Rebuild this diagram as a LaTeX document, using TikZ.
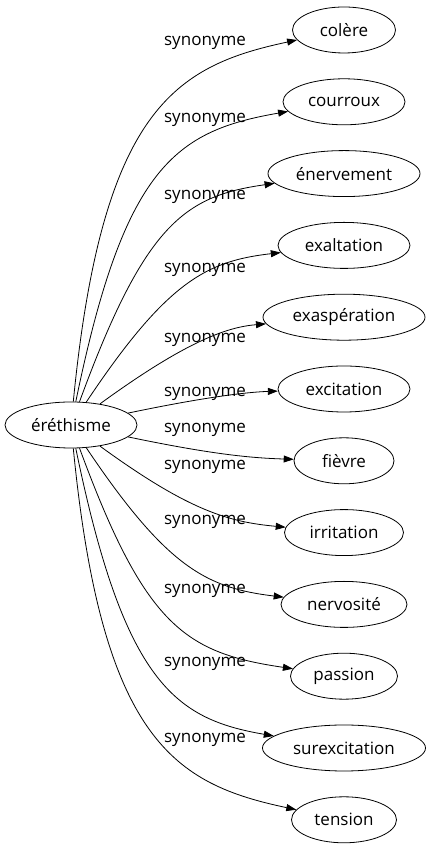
\documentclass[tikz,border=0pt]{standalone}
\usepackage{fontspec}
\setmainfont{Open Sans}
\usetikzlibrary{shapes.geometric}
\usetikzlibrary{positioning}
\usetikzlibrary{arrows.meta}

\begin{document}
\begin{tikzpicture}[x=1pt,y=1pt,>={Triangle[length=10pt,width=7pt]},node distance=71.8pt,
	line width=0.8pt,main node/.style={ellipse,draw,inner sep=0pt,minimum height=46pt,font=\fontsize{17}{20}\selectfont},
	syn label/.style={font=\fontsize{17}{20}\selectfont,inner sep=0pt}]
	\useasboundingbox (0,0) rectangle (431,851);
	
	\node[main node,minimum width=132pt] (ere) at (71,426) {éréthisme};
	\node[main node,minimum width=103pt] (colere) at (344,821) {colère};
	\node[main node,minimum width=122pt] (courroux) [below of=colere] {courroux};
	\node[main node,minimum width=152pt] (enervement) [below of=courroux] {énervement};
	\node[main node,minimum width=132pt] (exaltation) [below of=enervement] {exaltation};
	\node[main node,minimum width=162pt] (exasperation) [below of=exaltation] {exaspération};
	\node[main node,minimum width=132pt] (excitation) [below of=exasperation] {excitation};
	\node[main node,minimum width=100pt] (fievre) [below of=excitation] {fièvre};
	\node[main node,minimum width=119pt] (irritation) [below of=fievre] {irritation};
	\node[main node,minimum width=126pt] (nervosite) [below of=irritation] {nervosité};
	\node[main node,minimum width=107pt] (passion) [below of=nervosite] {passion};
	\node[main node,minimum width=163pt] (surexcitation) [below of=passion] {surexcitation};
	\node[main node,minimum width=105pt] (tension) [below of=surexcitation] {tension};
	
	\node[syn label] (s1) at (205,808) {synonyme};
	\node[syn label] (s2) at (205,731) {synonyme};
	\node[syn label] (s3) at (205,654) {synonyme};
	\node[syn label] (s4) at (205,581) {synonyme};
	\node[syn label] (s5) at (205,511) {synonyme};
	\node[syn label] (s6) at (205,457) {synonyme};
	\node[syn label] (s7) at (205,421) {synonyme};
	\node[syn label] (s8) at (205,384) {synonyme};
	\node[syn label] (s9) at (205,329) {synonyme};
	\node[syn label] (s10) at (205,260) {synonyme};
	\node[syn label] (s11) at (205,187) {synonyme};
	\node[syn label] (s12) at (205,111) {synonyme};
	
	\draw[->] (ere) .. controls (102,742) and (175,785) .. (colere);
	\draw[->] (ere) .. controls (124,684) and (175,720) .. (courroux);
	\draw[->] (ere) .. controls (145,628) and (185,655) .. (enervement);
	\draw[->] (ere) .. controls (167,570) and (207,590) .. (exaltation);
	\draw[->] (ere) .. controls (189,512) and (229,524) .. (exasperation);
	\draw[->] (ere) .. controls (210,455) and (250,459) .. (excitation);
	\draw[->] (ere) .. controls (210,397) and (250,393) .. (fievre);
	\draw[->] (ere) .. controls (189,340) and (229,329) .. (irritation);
	\draw[->] (ere) .. controls (167,283) and (207,263) .. (nervosite);
	\draw[->] (ere) .. controls (145,225) and (185,198) .. (passion);
	\draw[->] (ere) .. controls (124,168) and (175,132) .. (surexcitation);
	\draw[->] (ere) .. controls (102,110) and (175,67) .. (tension);
\end{tikzpicture}
\end{document}
